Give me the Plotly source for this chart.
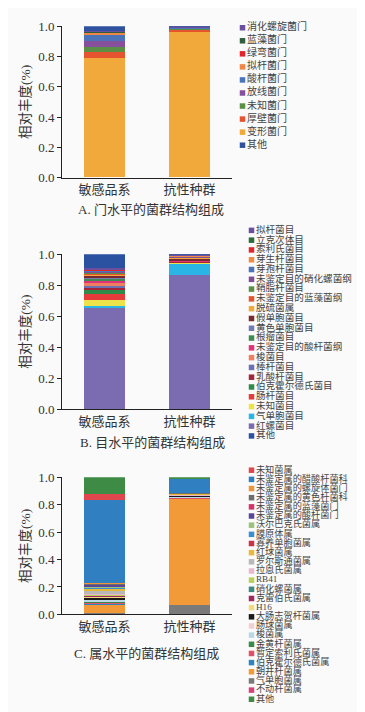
import plotly.graph_objects as go

W, H = 365, 712
groups = ["敏感品系", "抗性种群"]
yticks = [0.0, 0.2, 0.4, 0.6, 0.8, 1.0]

# ---- A: phylum level (legend order, top -> bottom) ----
phylum_names = ["消化螺旋菌门", "蓝藻菌门", "绿弯菌门", "拟杆菌门", "酸杆菌门",
                "放线菌门", "未知菌门", "厚壁菌门", "变形菌门", "其他"]
phylum_colors = ["#6a4f9c", "#2f5e3f", "#e0262b", "#ee8748", "#4a73b8",
                 "#86509c", "#5b8f45", "#e5532f", "#f2a93b", "#2f52a0"]
phylum_sens = [0.003, 0.005, 0.005, 0.017, 0.037, 0.039, 0.036, 0.039, 0.787, 0.032]
phylum_res = [0.006, 0.001, 0.001, 0.002, 0.002, 0.004, 0.004, 0.015, 0.962, 0.003]

# ---- B: order level ----
order_names = ["拟杆菌目", "立克次体目", "索利氏菌目", "芽生杆菌目", "芽孢杆菌目",
               "未鉴定目的硝化螺菌纲", "鞘脂杆菌目", "未鉴定目的蓝藻菌纲", "脱硫菌属",
               "假单胞菌目", "黄色单胞菌目", "根瘤菌目", "未鉴定目的酸杆菌纲", "梭菌目",
               "棒杆菌目", "乳酸杆菌目", "伯克霍尔德氏菌目", "肠杆菌目", "未知菌目",
               "气单胞菌目", "红螺菌目", "其他"]
order_colors = ["#6b4f9e", "#2e6b3a", "#e0262b", "#ef8a47", "#4a73b8",
                "#7e4f96", "#5b8f45", "#e5532f", "#f2a93b", "#7a2a2e",
                "#7379b5", "#3f8a50", "#e0337a", "#ef7f5f", "#6a72b5",
                "#a3253a", "#2e8b4a", "#e5393a", "#ece24a", "#29b5e5",
                "#7b6bb0", "#2a52a0"]
order_sens = [0.004, 0.003, 0.004, 0.004, 0.004, 0.005, 0.006, 0.008, 0.008, 0.010,
              0.012, 0.013, 0.016, 0.016, 0.014, 0.014, 0.027, 0.034, 0.042, 0.008,
              0.655, 0.093]
order_res = [0.006, 0.002, 0.001, 0.002, 0.002, 0.004, 0.003, 0.002, 0.004, 0.010,
             0.003, 0.002, 0.002, 0.002, 0.002, 0.002, 0.003, 0.003, 0.004, 0.072,
             0.866, 0.003]

# ---- C: genus level ----
genus_names = ["未知菌属", "未鉴定属的醋酸杆菌科", "未鉴定属的螺旋体菌门", "未鉴定属的黄色杆菌科",
               "未鉴定属的蓝藻菌门", "未鉴定属的酸杆菌门", "沃尔巴克氏菌属", "膜原体属",
               "寡养单胞菌属", "红球菌属", "罗尔斯通菌属", "拉恩氏菌属", "RB41", "硝化螺菌属",
               "克雷伯氏菌属", "H16", "大肠志贺杆菌属", "肠球菌属", "梭菌属", "金黄杆菌属",
               "暂定索利氏菌属", "伯克霍尔德氏菌属", "朝井杆菌属", "气单胞菌属", "不动杆菌属", "其他"]
genus_colors = ["#e0474c", "#2f7fc1", "#f0963a", "#6e6e6e", "#d6336c", "#5b4596",
                "#9bc27a", "#3a8fd0", "#c8334a", "#e8b838", "#b8b8b8", "#e8b8d0",
                "#b8d05a", "#3a8a80", "#a02860", "#f0dc80", "#1a1a1a", "#f0d0d0",
                "#b8d8e8", "#3a8a4a", "#e0506a", "#2e86c1", "#f29a38", "#7a7a7a",
                "#d9407a", "#3d8b45"]
genus_sens = [0.041, 0.607, 0.004, 0.004, 0.003, 0.018, 0.004, 0.004, 0.005, 0.015,
              0.020, 0.008, 0.004, 0.004, 0.006, 0.006, 0.012, 0.006, 0.018, 0.004,
              0.005, 0.008, 0.058, 0.004, 0.006, 0.126]
genus_res = [0.003, 0.100, 0.002, 0.001, 0.001, 0.001, 0.001, 0.002, 0.002, 0.001,
             0.004, 0.004, 0.001, 0.001, 0.001, 0.002, 0.001, 0.005, 0.002, 0.002,
             0.006, 0.002, 0.775, 0.067, 0.002, 0.011]

panels = [
    dict(names=phylum_names, colors=phylum_colors, sens=phylum_sens, res=phylum_res,
         top=11.5, bottom=166.0, title="A. 门水平的菌群结构组成", title_y=199, title_x=143,
         leg_first=13.0, leg_last=133.0, leg_x=234.5, leg_font=10),
    dict(names=order_names, colors=order_colors, sens=order_sens, res=order_res,
         top=244.3, bottom=402.7, title="B. 目水平的菌群结构组成", title_y=437, title_x=144,
         leg_first=220.0, leg_last=430.0, leg_x=243.5, leg_font=9.6),
    dict(names=genus_names, colors=genus_colors, sens=genus_sens, res=genus_res,
         top=472.3, bottom=612.3, title="C. 属水平的菌群结构组成", title_y=652, title_x=138,
         leg_first=465.0, leg_last=699.0, leg_x=243.5, leg_font=9.2),
]

SERIF = "Liberation Serif, Noto Sans CJK SC, serif"
AX_L, AX_R = 54.0, 224.0

fig = go.Figure()
annotations = []
layout = {}

for k, p in enumerate(panels):
    bar_ax = 2 * k + 1
    leg_ax = 2 * k + 2
    xa = "x" if bar_ax == 1 else f"x{bar_ax}"
    ya = "y" if bar_ax == 1 else f"y{bar_ax}"
    n = len(p["names"])
    # stacking order: legend reversed (without 其他), then 其他 on top
    stack_idx = list(range(n - 2, -1, -1)) + [n - 1]
    for i in stack_idx:
        fig.add_trace(go.Bar(
            x=groups, y=[p["sens"][i], p["res"][i]], name=p["names"][i],
            marker=dict(color=p["colors"][i], line=dict(width=0)),
            width=0.48, xaxis=xa, yaxis=ya, showlegend=False, hoverinfo="skip"))
    xkey = "xaxis" if bar_ax == 1 else f"xaxis{bar_ax}"
    ykey = "yaxis" if bar_ax == 1 else f"yaxis{bar_ax}"
    layout[xkey] = dict(domain=[AX_L / W, AX_R / W], anchor=ya, range=[-0.5, 1.5],
                        showline=True, linecolor="#222", linewidth=1, ticks="",
                        tickfont=dict(family=SERIF, size=13, color="#333"),
                        showgrid=False, zeroline=False, fixedrange=True)
    layout[ykey] = dict(domain=[1 - p["bottom"] / H, 1 - p["top"] / H], anchor=xa,
                        range=[0, 1], tickvals=yticks, tickformat=".1f",
                        showline=True, linecolor="#222", linewidth=1,
                        ticks="outside", ticklen=4, tickcolor="#222",
                        tickfont=dict(family=SERIF, size=13, color="#333"),
                        showgrid=False, zeroline=False, fixedrange=True)
    # y axis title
    annotations.append(dict(text="相对丰度(%)", x=18 / W, y=1 - (p["top"] + p["bottom"]) / 2 / H,
                            xref="paper", yref="paper", showarrow=False, textangle=-90,
                            font=dict(family=SERIF, size=13.5, color="#333"),
                            xanchor="center", yanchor="middle"))
    annotations.append(dict(text=p["title"], x=p["title_x"] / W, y=1 - p["title_y"] / H,
                            xref="paper", yref="paper", showarrow=False,
                            font=dict(family=SERIF, size=13, color="#333"),
                            xanchor="center", yanchor="middle"))
    # legend drawn as scatter on its own axes
    lxa, lya = f"x{leg_ax}", f"y{leg_ax}"
    step = (p["leg_last"] - p["leg_first"]) / (n - 1)
    top_px = p["leg_first"] - step / 2
    bot_px = p["leg_last"] + step / 2
    fig.add_trace(go.Scatter(
        x=[0] * n, y=list(range(n)), mode="markers+text", text=p["names"],
        textposition="middle right", cliponaxis=False,
        textfont=dict(family=SERIF, size=p["leg_font"], color="#444"),
        marker=dict(symbol="square", size=5.5, color=p["colors"], line=dict(width=0)),
        xaxis=lxa, yaxis=lya, showlegend=False, hoverinfo="skip"))
    layout[f"xaxis{leg_ax}"] = dict(domain=[p["leg_x"] / W, 1], anchor=lya,
                                    range=[0, 1], visible=False, fixedrange=True)
    layout[f"yaxis{leg_ax}"] = dict(domain=[1 - bot_px / H, 1 - top_px / H], anchor=lxa,
                                    range=[n - 0.5, -0.5], visible=False, fixedrange=True)

fig.update_layout(
    width=W, height=H, margin=dict(l=0, r=0, t=0, b=0),
    paper_bgcolor="#fafafa", plot_bgcolor="rgba(0,0,0,0)",
    barmode="stack", bargap=0, showlegend=False,
    annotations=annotations, **layout)

fig.write_html("out.html")
